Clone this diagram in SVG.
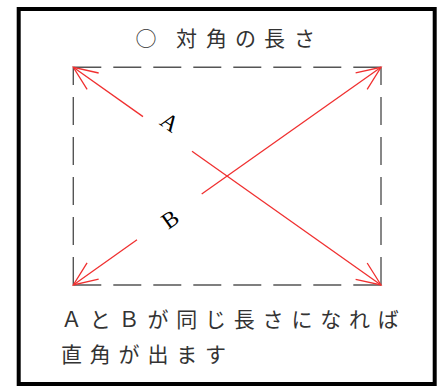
<svg xmlns="http://www.w3.org/2000/svg" width="445" height="386" viewBox="0 0 445 386">
<defs>
<style>
.frame{fill:#fff;stroke:#000;stroke-width:4}
.dash{stroke:#555;stroke-width:1.4;stroke-dasharray:28 12;fill:none}
.red{stroke:#f03030;stroke-width:1.3;fill:none}
.jp{font-family:"Noto Sans CJK JP","Noto Sans",sans-serif;font-size:21px;fill:#333}
.lbl{font-family:"Liberation Serif","Times New Roman",serif;font-size:23px;fill:#000;text-anchor:middle}
</style>
<marker id="arr" markerUnits="userSpaceOnUse" orient="auto" markerWidth="30" markerHeight="30" refX="0" refY="0" viewBox="-30 -15 30 30" overflow="visible">
<path d="M-24,-10 L0,0 L-24,10" fill="none" stroke="#f03030" stroke-width="1.3"/>
</marker>
</defs>
<rect class="frame" x="18.7" y="9" width="416" height="375"/>
<g id="rect-guide">
<line class="dash" x1="73.3" y1="67.3" x2="381" y2="67.3"/>
<line class="dash" x1="73.3" y1="285" x2="381" y2="285"/>
<line class="dash" x1="73.3" y1="285" x2="73.3" y2="67.3"/>
<line class="dash" x1="381" y1="285" x2="381" y2="67.3"/>
</g>
<g id="connectors">
<line class="red" x1="143" y1="116.6" x2="73.3" y2="67.3" marker-end="url(#arr)"/>
<line class="red" x1="192" y1="151.3" x2="381" y2="285" marker-end="url(#arr)"/>
<line class="red" x1="137" y1="239.7" x2="73.3" y2="285" marker-end="url(#arr)"/>
<line class="red" x1="201.7" y1="194" x2="381" y2="67.3" marker-end="url(#arr)"/>
</g>
<g id="label-a"><text class="lbl" transform="translate(170,122) rotate(35)" x="0" y="8">A</text></g>
<g id="label-b"><text class="lbl" transform="translate(170,219) rotate(-35)" x="0" y="8">B</text></g>
<g id="title"><text class="jp" x="135.5 160 176 206 235 264 294" y="46">○ 対角の長さ</text></g>
<g id="caption">
<text class="jp" x="61 89.8 118.6 147.4 176.2 205 233.8 262.6 291.4 320.2 349 377.8" y="327">ＡとＢが同じ長さになれば</text>
<text class="jp" x="61 89.8 118.6 147.4 176.2 205" y="362">直角が出ます</text>
</g>
</svg>
